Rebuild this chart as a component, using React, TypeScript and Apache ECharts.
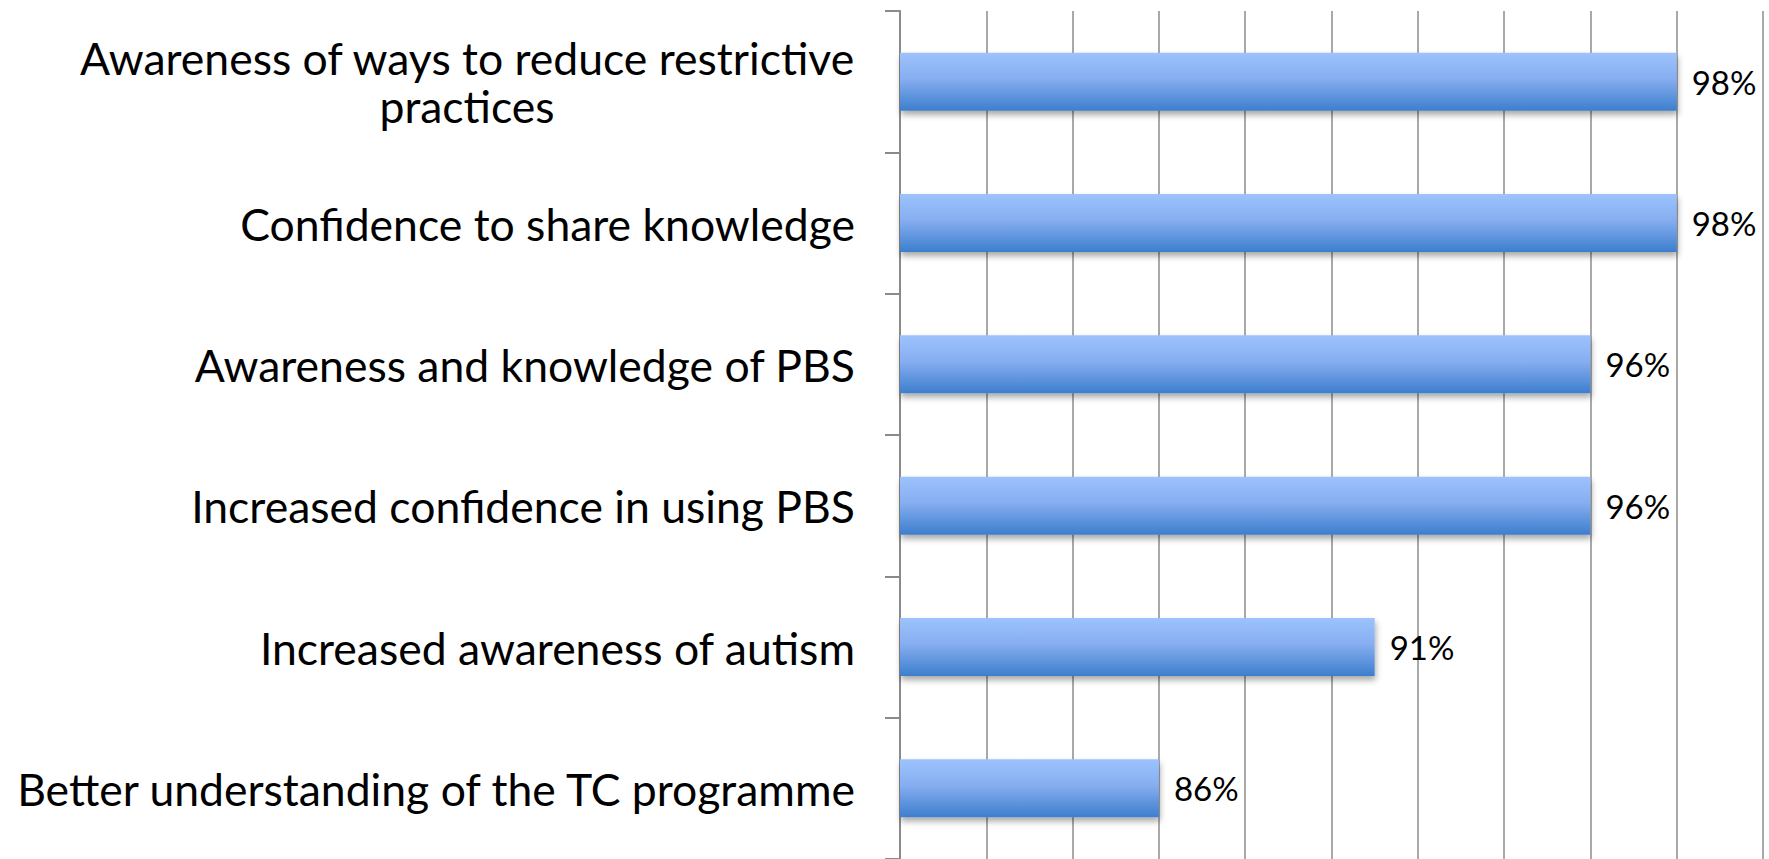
import React, { useEffect, useRef } from "react";
import * as echarts from "echarts";

const categories = [
  "Awareness of ways to reduce restrictive\npractices",
  "Confidence to share knowledge",
  "Awareness and knowledge of PBS",
  "Increased confidence in using PBS",
  "Increased awareness of autism",
  "Better understanding of the TC programme",
];
const values = [98, 98, 96, 96, 91, 86];
const axisMin = 80;
const axisMax = 100;
const axisStep = 2;

const FONT = "Lato, 'Open Sans', sans-serif";

export default function App() {
  const ref = useRef<HTMLDivElement>(null);
  useEffect(() => {
    document.body.style.margin = "0";
    const chart = echarts.init(ref.current!, null, { renderer: "svg" });
    chart.setOption({
      animation: false,
      backgroundColor: "#ffffff",
      grid: { left: 900, top: 11, width: 863, height: 849, containLabel: false },
      xAxis: {
        type: "value",
        min: axisMin,
        max: axisMax,
        interval: axisStep,
        axisLabel: { show: false },
        axisTick: { show: false },
        axisLine: { show: false },
        splitLine: { show: true, lineStyle: { color: "#8c8c8c", width: 1.5 } },
      },
      yAxis: {
        type: "category",
        inverse: true,
        data: categories,
        axisLine: { show: true, lineStyle: { color: "#8a8a8a", width: 2 } },
        axisTick: { show: true, length: 15, lineStyle: { color: "#8a8a8a", width: 2 } },
        axisLabel: {
          margin: 45,
          color: "#000",
          fontFamily: FONT,
          fontSize: 44.5,
          lineHeight: 48,
          formatter: (v: string) =>
            v.includes("\n")
              ? v
                  .split("\n")
                  .map((l) => `{c|${l}}`)
                  .join("\n")
              : v,
          rich: {
            c: {
              align: "center",
              color: "#000",
              fontFamily: FONT,
              fontSize: 44.5,
              lineHeight: 48,
            },
          },
        },
      },
      series: [
        {
          type: "bar",
          data: values,
          barWidth: 58,
          itemStyle: {
            color: new echarts.graphic.LinearGradient(0, 0, 0, 1, [
              { offset: 0, color: "#9dc2fd" },
              { offset: 0.45, color: "#86aef0" },
              { offset: 1, color: "#3d7ecd" },
            ]),
            shadowColor: "rgba(0,0,0,0.35)",
            shadowBlur: 6,
            shadowOffsetY: 4,
            shadowOffsetX: 1,
          },
          label: {
            show: true,
            position: "right",
            distance: 15,
            color: "#000",
            fontFamily: FONT,
            fontSize: 33,
            formatter: (p: any) => `${p.value}%`,
          },
        },
      ],
    });
    return () => chart.dispose();
  }, []);
  return (
    <div
      ref={ref}
      style={{ position: "fixed", left: 0, top: 0, width: 1769, height: 859 }}
    />
  );
}
